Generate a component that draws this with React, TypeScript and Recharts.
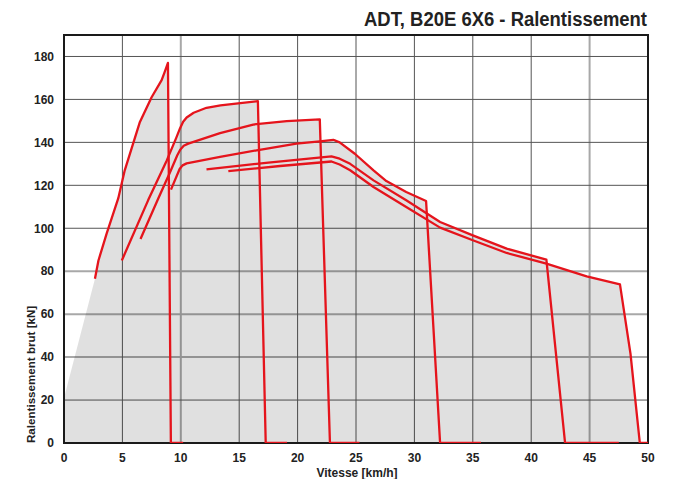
import React from "react";
import {
  ComposedChart,
  Line,
  Area,
  XAxis,
  YAxis,
  CartesianGrid,
  ReferenceArea,
} from "recharts";

// speed [km/h] -> v, retarding force [kN] -> f
const gear1 = [
  { v: 2.65, f: 76.5 },
  { v: 2.95, f: 85 },
  { v: 3.65, f: 97.5 },
  { v: 4.65, f: 114 },
  { v: 5.2, f: 127 },
  { v: 6.5, f: 149.5 },
  { v: 7.5, f: 161 },
  { v: 8.36, f: 169 },
  { v: 8.6, f: 172.5 },
  { v: 8.9, f: 177 },
  { v: 9.15, f: 0 },
  { v: 10.2, f: 0 },
];

const gear2 = [
  { v: 4.95, f: 85 },
  { v: 7.2, f: 113 },
  { v: 8.8, f: 131.6 },
  { v: 9.6, f: 142 },
  { v: 9.93, f: 146.5 },
  { v: 10.2, f: 149.6 },
  { v: 10.5, f: 151.6 },
  { v: 11.1, f: 153.8 },
  { v: 12.2, f: 156.1 },
  { v: 13.4, f: 157.2 },
  { v: 15.1, f: 158.3 },
  { v: 16.6, f: 159.2 },
  { v: 17.27, f: 0 },
  { v: 19.1, f: 0 },
];

const gear3 = [
  { v: 6.55, f: 95 },
  { v: 8.08, f: 114 },
  { v: 9.07, f: 126 },
  { v: 9.7, f: 134 },
  { v: 9.95, f: 136.6 },
  { v: 10.25, f: 138.4 },
  { v: 10.64, f: 139.4 },
  { v: 13.36, f: 144.3 },
  { v: 16.2, f: 148.3 },
  { v: 19.07, f: 149.9 },
  { v: 21.9, f: 150.7 },
  { v: 22.77, f: 0 },
  { v: 25.3, f: 0 },
];

const gear4 = [
  { v: 9.16, f: 118 },
  { v: 9.9, f: 127.6 },
  { v: 10.15, f: 129.3 },
  { v: 10.5, f: 130.2 },
  { v: 13.36, f: 133.2 },
  { v: 16.5, f: 136.3 },
  { v: 19.9, f: 139.4 },
  { v: 21.9, f: 140.5 },
  { v: 23.06, f: 141.2 },
  { v: 23.6, f: 140 },
  { v: 24.9, f: 134.7 },
  { v: 26.5, f: 127 },
  { v: 27.6, f: 122 },
  { v: 29.3, f: 116.9 },
  { v: 31.0, f: 112.7 },
  { v: 32.2, f: 0 },
  { v: 35.7, f: 0 },
];

const gear5 = [
  { v: 12.2, f: 127.4 },
  { v: 17.5, f: 130.6 },
  { v: 22.9, f: 133.5 },
  { v: 23.6, f: 132.4 },
  { v: 24.5, f: 130 },
  { v: 26.5, f: 122.3 },
  { v: 29.3, f: 113 },
  { v: 32.2, f: 102.9 },
  { v: 35.0, f: 96.7 },
  { v: 37.9, f: 90.5 },
  { v: 41.3, f: 85.4 },
  { v: 42.9, f: 0 },
  { v: 47.5, f: 0 },
];

const gear6 = [
  { v: 14.07, f: 126.6 },
  { v: 18.5, f: 129 },
  { v: 22.9, f: 131.1 },
  { v: 23.6, f: 129.7 },
  { v: 24.5, f: 127 },
  { v: 26.5, f: 119.2 },
  { v: 29.3, f: 109.9 },
  { v: 32.2, f: 100.3 },
  { v: 35.0, f: 94.4 },
  { v: 37.9, f: 88.5 },
  { v: 41.3, f: 83.5 },
  { v: 44.75, f: 77.6 },
  { v: 47.6, f: 73.9 },
  { v: 48.5, f: 41.6 },
  { v: 49.3, f: 0 },
  { v: 50, f: 0 },
];

// grey envelope (upper boundary of all gears)
const envelope = [
  { v: 0, f: 21 },
  { v: 2.65, f: 76.5 },
  { v: 2.95, f: 85 },
  { v: 3.65, f: 97.5 },
  { v: 4.65, f: 114 },
  { v: 5.2, f: 127 },
  { v: 6.5, f: 149.5 },
  { v: 7.5, f: 161 },
  { v: 8.36, f: 169 },
  { v: 8.6, f: 172.5 },
  { v: 8.9, f: 177 },
  { v: 8.97, f: 133.6 },
  { v: 9.6, f: 142 },
  { v: 9.93, f: 146.5 },
  { v: 10.2, f: 149.6 },
  { v: 10.5, f: 151.6 },
  { v: 11.1, f: 153.8 },
  { v: 12.2, f: 156.1 },
  { v: 13.4, f: 157.2 },
  { v: 15.1, f: 158.3 },
  { v: 16.6, f: 159.2 },
  { v: 16.65, f: 148.5 },
  { v: 19.07, f: 149.9 },
  { v: 21.9, f: 150.7 },
  { v: 21.96, f: 140.5 },
  { v: 23.06, f: 141.2 },
  { v: 23.6, f: 140 },
  { v: 24.9, f: 134.7 },
  { v: 26.5, f: 127 },
  { v: 27.6, f: 122 },
  { v: 29.3, f: 116.9 },
  { v: 31.0, f: 112.7 },
  { v: 31.07, f: 106.3 },
  { v: 32.2, f: 102.9 },
  { v: 35.0, f: 96.7 },
  { v: 37.9, f: 90.5 },
  { v: 41.3, f: 85.4 },
  { v: 41.34, f: 83.4 },
  { v: 44.75, f: 77.6 },
  { v: 47.6, f: 73.9 },
  { v: 48.5, f: 41.6 },
  { v: 49.3, f: 0 },
];

const gears = [gear1, gear2, gear3, gear4, gear5, gear6];

const xTicks = [0, 5, 10, 15, 20, 25, 30, 35, 40, 45, 50];
const yTicks = [0, 20, 40, 60, 80, 100, 120, 140, 160, 180];
const darkX = [5, 15, 20, 25, 30, 35, 40];
const darkY = [20, 100, 120, 140, 160, 180];
const lightX = [10, 45];
const lightY = [40, 60, 80];

const TITLE = "ADT, B20E 6X6 - Ralentissement";
const X_LABEL = "Vitesse [km/h]";
const Y_LABEL = "Ralentissement brut [kN]";

const FONT = "'Liberation Sans', Arial, Helvetica, sans-serif";
const RED = "#e5141c";

const tickStyle = { fontSize: 12, fontWeight: 700, fill: "#222", fontFamily: FONT };

export default function App() {
  return (
    <div style={{ position: "absolute", left: 0, top: 0, width: 682, height: 479, background: "#fff" }}>
      <ComposedChart
        width={682}
        height={479}
        margin={{ top: 35, right: 34, left: 0, bottom: 0 }}
      >
        <XAxis
          dataKey="v"
          type="number"
          domain={[0, 50]}
          ticks={xTicks}
          tickLine={false}
          tickSize={0}
          tickMargin={10}
          axisLine={false}
          height={36}
          tick={tickStyle}
          allowDataOverflow
        />
        <YAxis
          type="number"
          domain={[0, 190]}
          ticks={yTicks}
          tickLine={false}
          tickSize={0}
          tickMargin={10}
          axisLine={false}
          width={64}
          tick={tickStyle}
          allowDataOverflow
        />
        <CartesianGrid
          stroke="#a8a8a8"
          strokeWidth={2}
          verticalValues={lightX}
          horizontalValues={lightY}
        />
        <CartesianGrid
          stroke="#555"
          strokeWidth={1}
          verticalValues={darkX}
          horizontalValues={darkY}
        />
        <Area
          data={envelope}
          dataKey="f"
          type="linear"
          stroke="none"
          fill="#000"
          fillOpacity={0.12}
          baseValue={0}
          isAnimationActive={false}
          activeDot={false}
          dot={false}
        />
        {gears.map((g, i) => (
          <Line
            key={"g" + i}
            data={g}
            dataKey="f"
            type="linear"
            stroke={RED}
            strokeWidth={2.3}
            dot={false}
            activeDot={false}
            isAnimationActive={false}
            strokeLinejoin="round"
          />
        ))}
        <ReferenceArea
          x1={0}
          x2={50}
          y1={0}
          y2={190}
          fill="none"
          stroke="#1a1a1a"
          strokeWidth={2}
          ifOverflow="visible"
        />
      </ComposedChart>
      <svg
        width={682}
        height={479}
        style={{ position: "absolute", left: 0, top: 0, pointerEvents: "none" }}
      >
        <text
          x={647}
          y={26}
          textAnchor="end"
          fontFamily={FONT}
          fontWeight={700}
          fontSize={19.5}
          fill="#222"
          textLength={283}
          lengthAdjust="spacingAndGlyphs"
        >
          {TITLE}
        </text>
        <text
          x={357}
          y={477}
          textAnchor="middle"
          fontFamily={FONT}
          fontWeight={700}
          fontSize={12}
          fill="#222"
        >
          {X_LABEL}
        </text>
        <text
          x={34.5}
          y={443}
          textAnchor="start"
          transform="rotate(-90 34.5 443)"
          fontFamily={FONT}
          fontWeight={700}
          fontSize={11.6}
          fill="#222"
        >
          {Y_LABEL}
        </text>
      </svg>
    </div>
  );
}
